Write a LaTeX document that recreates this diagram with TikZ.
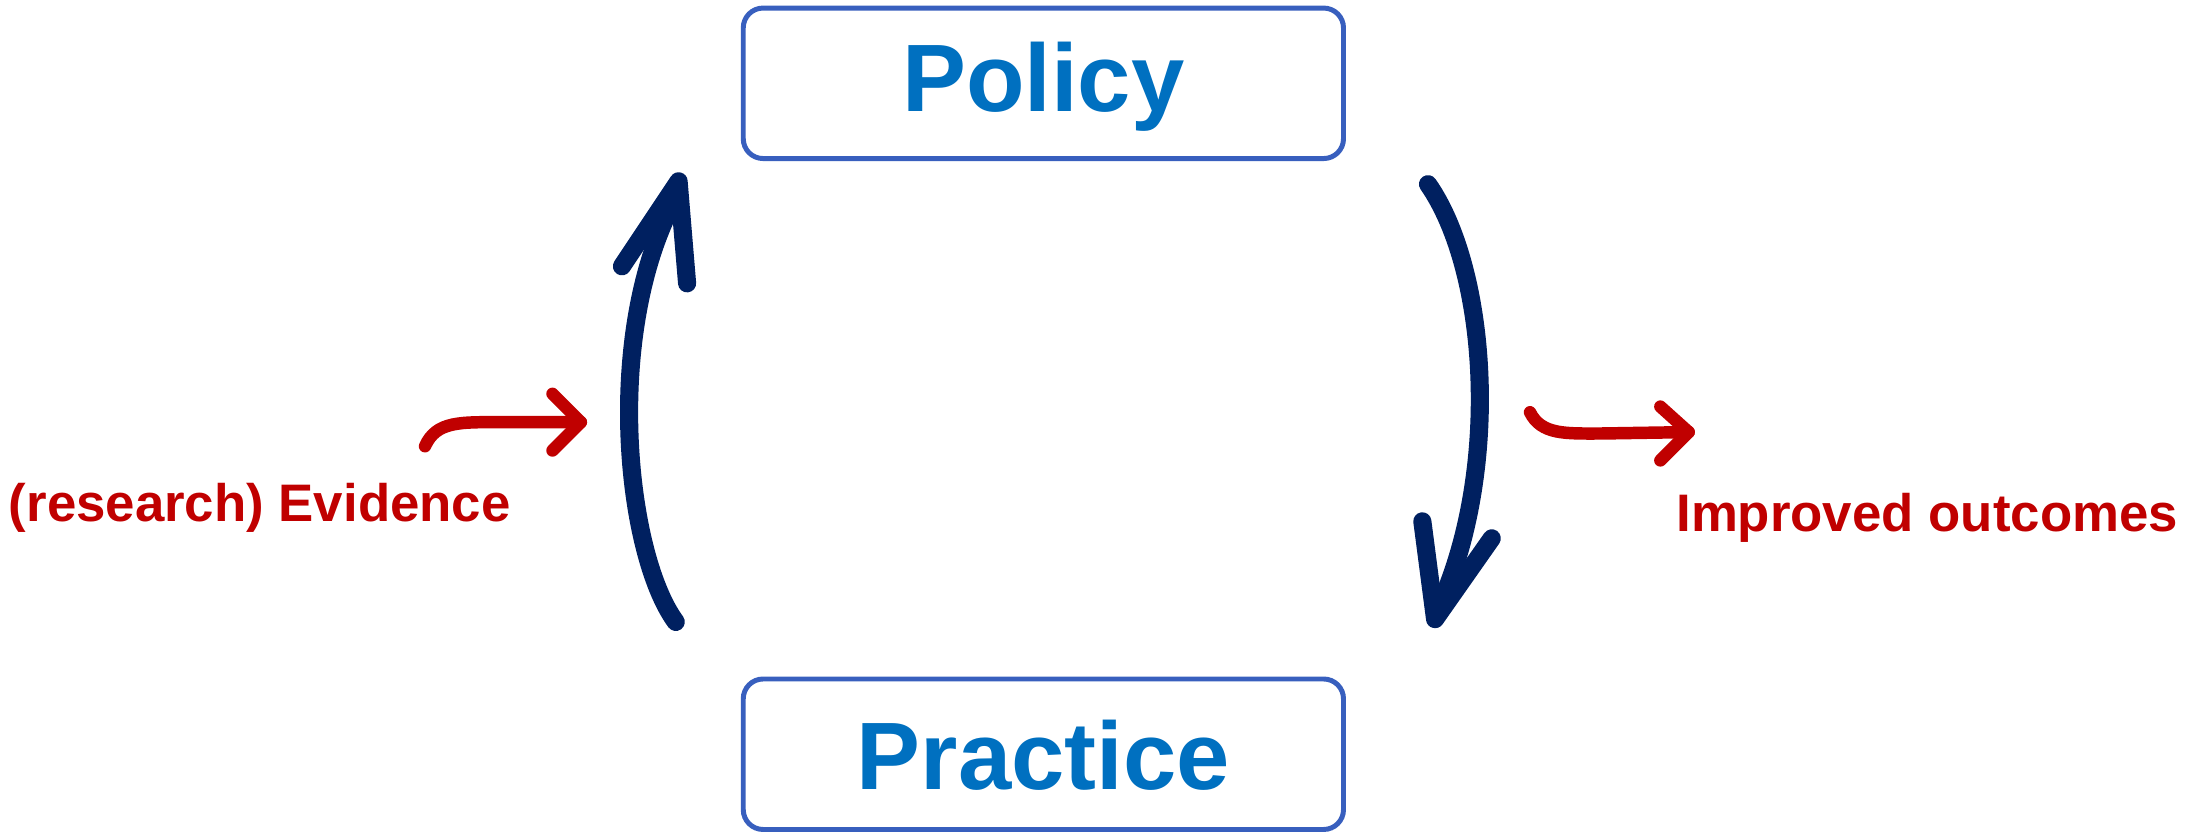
\documentclass[tikz,border=0pt]{standalone}
\usepackage{fontspec}
\setmainfont{Liberation Sans}
\usepackage{xcolor}

\definecolor{policyblue}{RGB}{0,112,192}
\definecolor{boxblue}{RGB}{56,95,190}
\definecolor{cyclenavy}{RGB}{0,32,96}
\definecolor{linkred}{RGB}{192,0,0}

\tikzset{
  box/.style={draw=boxblue, line width=0.0875cm, rounded corners=0.35cm, fill=white,
    minimum width=10.59cm, minimum height=2.655cm, inner sep=0pt,
    text=policyblue, font=\fontsize{48.1pt}{50pt}\selectfont\bfseries},
  cycle arrow/.style={cyclenavy, line width=0.32cm, line cap=round, line join=round},
  link arrow/.style={linkred, line width=0.22cm, line cap=round, line join=round},
  link label/.style={text=linkred, inner sep=0pt, anchor=base west,
    font=\fontsize{26.5pt}{28pt}\selectfont\bfseries}
}

\begin{document}
\begin{tikzpicture}[x=0.025cm, y=-0.025cm]

\useasboundingbox (0,0) rectangle (1560,587.3);

\node (policy) [box, text height=1.2cm, text depth=0.2cm] at (736.5,58.8) {Policy};
\node (practice) [box, text height=1.4cm, text depth=0.15cm] at (736.5,532.4) {Practice};

\node (evidence) [link label] at (6,368) {(research) Evidence};
\node (outcomes) [link label] at (1183,375) {Improved outcomes};

% the cycle
\coordinate (up tail) at (477,439);
\coordinate (up tip) at (479,128);
\coordinate (down tail) at (1008,130);
\coordinate (down tip) at (1013,437);

\draw [cycle arrow] (up tail) .. controls (441,390) and (425,230) .. (479,136);
\draw [cycle arrow] (439,188) -- (up tip) -- (485,200);

\draw [cycle arrow] (down tail) .. controls (1050,190) and (1060,330) .. (1016,428);
\draw [cycle arrow] (1004,368) -- (down tip) -- (1053,380);

% in and out
\coordinate (evidence start) at (300,315);
\coordinate (evidence tip) at (410,298);
\coordinate (outcomes start) at (1080,291);
\coordinate (outcomes tip) at (1192,305);

\draw [link arrow] (evidence start) .. controls (308,297) and (325,298) .. (355,298) -- (evidence tip);
\draw [link arrow] (390,278) -- (evidence tip) -- (390,318);

\draw [link arrow] (outcomes start) .. controls (1088,307) and (1105,306) .. (1130,306) -- (outcomes tip);
\draw [link arrow] (1172,287) -- (outcomes tip) -- (1172,325);

\end{tikzpicture}
\end{document}
